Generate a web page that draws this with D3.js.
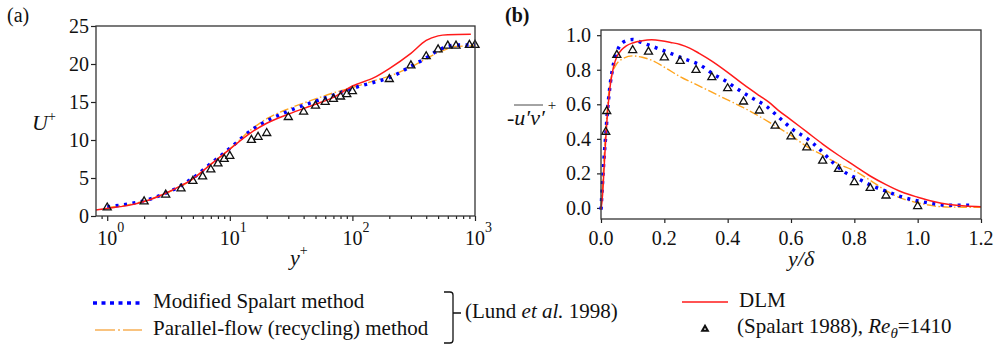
<!DOCTYPE html>
<html>
<head>
<meta charset="utf-8">
<script src="https://cdn.jsdelivr.net/npm/d3@7"></script>
</head>
<body style="margin:0;background:#fff">
<svg id="chart" width="1003" height="345" font-family="Liberation Serif"></svg>
<script>
// (a) mean velocity U+ vs y+
const dlmYp = [0.81, 1, 1.5, 2, 3, 4, 5, 7, 10, 15, 20, 30, 50, 70, 100, 150, 200, 300, 400, 500, 600, 925];
const dlmU = [0.8, 1.0, 1.4, 1.9, 3.0, 4.0, 4.9, 6.8, 8.8, 11.0, 12.2, 13.4, 14.7, 15.6, 17.1, 18.2, 19.4, 21.4, 23.1, 23.7, 23.85, 23.9];
const spalYp = [1, 1.5, 2, 3, 4, 5, 7, 10, 15, 20, 30, 50, 70, 100, 150, 200, 300, 400, 500, 600, 700, 1000];
const spalU = [1.2, 1.6, 2.0, 3.0, 4.0, 5.0, 6.9, 8.9, 11.3, 12.5, 13.8, 15.1, 15.9, 16.8, 17.6, 18.2, 19.7, 20.8, 21.8, 22.3, 22.5, 22.5];
const parYp = [1, 1.5, 2, 3, 4, 5, 7, 10, 15, 20, 30, 50, 70, 100, 150, 200, 300, 400, 500, 600, 700, 1000];
const parU = [1.1, 1.5, 1.95, 3.0, 3.9, 4.9, 6.8, 8.8, 11.4, 12.8, 14.1, 15.4, 16.2, 16.9, 17.8, 18.4, 19.6, 20.7, 21.5, 22.0, 22.3, 22.4];
const expYp = [1, 2, 3, 4, 5, 6, 7, 8, 9, 10, 15, 17, 20, 30, 40, 50, 60, 70, 80, 90, 100, 200, 300, 400, 500, 600, 700, 900, 1000];
const expU = [1.1, 1.9, 2.8, 3.6, 4.6, 5.2, 6.1, 6.9, 7.5, 7.9, 10.0, 10.4, 10.9, 13.0, 13.7, 14.5, 15.0, 15.4, 15.7, 16.0, 16.4, 18.0, 19.8, 21.0, 21.9, 22.4, 22.4, 22.5, 22.5];

// (b) Reynolds shear stress vs y/delta
const dlmEta = [0, 0.005, 0.01, 0.015, 0.02, 0.025, 0.03, 0.04, 0.05, 0.065, 0.08, 0.1, 0.13, 0.16, 0.19, 0.22, 0.25, 0.28, 0.31, 0.35, 0.4, 0.45, 0.5, 0.53, 0.56, 0.6, 0.65, 0.7, 0.75, 0.8, 0.85, 0.9, 0.95, 1.0, 1.05, 1.1, 1.15, 1.2];
const dlmUv = [-0.01, 0.08, 0.24, 0.40, 0.54, 0.64, 0.72, 0.82, 0.875, 0.915, 0.938, 0.955, 0.968, 0.973, 0.968, 0.958, 0.946, 0.925, 0.895, 0.85, 0.785, 0.715, 0.65, 0.612, 0.565, 0.51, 0.44, 0.37, 0.305, 0.245, 0.185, 0.135, 0.092, 0.062, 0.037, 0.02, 0.011, 0.007];
const spalEta = [0, 0.005, 0.01, 0.015, 0.02, 0.025, 0.03, 0.037, 0.044, 0.058, 0.079, 0.1, 0.128, 0.155, 0.207, 0.26, 0.313, 0.355, 0.397, 0.428, 0.47, 0.523, 0.565, 0.607, 0.649, 0.692, 0.734, 0.776, 0.818, 0.86, 0.902, 0.944, 0.997, 1.049, 1.102, 1.176];
const spalUv = [-0.01, 0.15, 0.3, 0.42, 0.55, 0.65, 0.73, 0.81, 0.87, 0.935, 0.968, 0.975, 0.958, 0.94, 0.904, 0.865, 0.827, 0.775, 0.731, 0.692, 0.644, 0.587, 0.519, 0.452, 0.404, 0.337, 0.26, 0.2, 0.163, 0.125, 0.096, 0.067, 0.042, 0.025, 0.015, 0.015];
const parEta = [0, 0.005, 0.01, 0.016, 0.023, 0.034, 0.047, 0.07, 0.1, 0.13, 0.16, 0.2, 0.25, 0.3, 0.35, 0.4, 0.45, 0.5, 0.55, 0.6, 0.65, 0.7, 0.75, 0.8, 0.85, 0.9, 0.95, 1.0, 1.05, 1.1, 1.2];
const parUv = [0, 0.12, 0.3, 0.47, 0.64, 0.77, 0.827, 0.865, 0.88, 0.872, 0.855, 0.815, 0.76, 0.715, 0.67, 0.625, 0.58, 0.53, 0.475, 0.42, 0.355, 0.305, 0.255, 0.215, 0.16, 0.1, 0.055, 0.03, 0.012, 0.005, 0.004];
const expEta = [0.015, 0.018, 0.05, 0.1, 0.15, 0.2, 0.25, 0.3, 0.35, 0.4, 0.45, 0.5, 0.55, 0.6, 0.65, 0.7, 0.75, 0.8, 0.85, 0.9, 1.0];
const expUv = [0.44, 0.56, 0.885, 0.913, 0.904, 0.871, 0.85, 0.798, 0.756, 0.692, 0.615, 0.563, 0.475, 0.413, 0.35, 0.273, 0.225, 0.148, 0.115, 0.071, 0.01];

const uTicks = [0, 5, 10, 15, 20, 25];
const decadeTicks = [1, 10, 100, 1000];
const uvTicks = [0, 0.2, 0.4, 0.6, 0.8, 1.0];
const etaTicks = [0, 0.2, 0.4, 0.6, 0.8, 1.0, 1.2];

const SERIF = "Liberation Serif";
const RED = "#ff1a1a", BLUE = "#0000ff", ORANGE = "#ffa51f";
const svg = d3.select("#chart");
svg.append("rect").attr("width", 1003).attr("height", 345).attr("fill", "#fff");

function zip(xs, ys) { return xs.map((x, i) => [x, ys[i]]); }

// every text goes through here so the serif face is set on the element itself
function label(g, x, y, size) {
  return g.append("text").attr("x", x).attr("y", y)
    .attr("font-size", size).attr("font-family", SERIF)
    .style("font-family", SERIF).attr("fill", "#111");
}

function drawSeries(g, x, y, series) {
  const line = d3.line().x(d => x(d[0])).y(d => y(d[1])).curve(d3.curveMonotoneX);
  g.append("path").datum(zip(series.par[0], series.par[1])).attr("d", line)
    .attr("fill", "none").attr("stroke", ORANGE).attr("stroke-width", 1.4).attr("stroke-dasharray", "9,2.5,1.5,2.5");
  g.append("path").datum(zip(series.spal[0], series.spal[1])).attr("d", line)
    .attr("fill", "none").attr("stroke", BLUE).attr("stroke-width", 3.5).attr("stroke-dasharray", "3,5.5");
  g.append("path").datum(zip(series.dlm[0], series.dlm[1])).attr("d", line)
    .attr("fill", "none").attr("stroke", RED).attr("stroke-width", 1.5);
  g.selectAll(".tri").data(zip(series.exp[0], series.exp[1])).enter().append("path")
    .attr("transform", d => `translate(${x(d[0])},${y(d[1])})`)
    .attr("d", d3.symbol(d3.symbolTriangle, 28)())
    .attr("fill", "none").attr("stroke", "#111").attr("stroke-width", 1.3);
}

// axis: ticks from d3, labels written as our own texts
function ticksOnly(g) {
  g.attr("font-family", SERIF);
  g.select(".domain").remove();
  g.selectAll("text").remove();
  g.selectAll("line").attr("stroke", "#222").attr("stroke-width", 1.2);
}

// ----- panel (a) -----
const xa = d3.scaleLog().domain([0.81, 1000]).range([96, 475]);
const ya = d3.scaleLinear().domain([0, 25]).range([216, 26]);
const ga = svg.append("g");

const minorA = [0.9].concat(d3.range(2, 10), d3.range(20, 100, 10), d3.range(200, 1000, 100));

ga.append("g").attr("transform", "translate(0,216)")
  .call(d3.axisBottom(xa).tickValues(minorA).tickSize(3)).call(ticksOnly);
ga.append("g").attr("transform", "translate(0,216)")
  .call(d3.axisBottom(xa).tickValues(decadeTicks).tickSize(5)).call(ticksOnly);
ga.append("g").attr("transform", "translate(96,0)")
  .call(d3.axisLeft(ya).tickValues(uTicks).tickSize(5)).call(ticksOnly);

decadeTicks.forEach(v => {
  label(ga, xa(v), 245, 20).attr("text-anchor", "middle").text("10");
  label(ga, xa(v) + 10, 232, 14).text(String(Math.round(Math.log10(v))));
});
uTicks.forEach(v => {
  label(ga, 89, ya(v), 20).attr("text-anchor", "end").attr("dy", "0.34em").text(v);
});

drawSeries(ga, xa, ya, {
  par: [parYp, parU], spal: [spalYp, spalU], dlm: [dlmYp, dlmU], exp: [expYp, expU]
});
ga.append("rect").attr("x", 96).attr("y", 26).attr("width", 379).attr("height", 190)
  .attr("fill", "none").attr("stroke", "#333").attr("stroke-width", 1.3);

label(ga, 7, 22, 20).text("(a)");
const ua = label(ga, 32, 130, 22);
ua.append("tspan").attr("font-style", "italic").text("U");
ua.append("tspan").attr("dy", -9).attr("font-size", 14).text("+");
const ypa = label(ga, 290, 265, 22);
ypa.append("tspan").attr("font-style", "italic").text("y");
ypa.append("tspan").attr("dy", -10).attr("font-size", 14).text("+");

// ----- panel (b) -----
const xb = d3.scaleLinear().domain([0, 1.2]).range([601, 981]);
const yb = d3.scaleLinear().domain([-0.064, 1.03]).range([219, 30]);
const gb = svg.append("g");
const f1 = d3.format(".1f");

gb.append("g").attr("transform", "translate(0,219)")
  .call(d3.axisBottom(xb).tickValues(etaTicks).tickSize(4)).call(ticksOnly);
gb.append("g").attr("transform", "translate(601,0)")
  .call(d3.axisLeft(yb).tickValues(uvTicks).tickSize(4)).call(ticksOnly);
etaTicks.forEach(v => {
  label(gb, xb(v), 245, 20).attr("text-anchor", "middle").text(f1(v));
});
uvTicks.forEach(v => {
  label(gb, 591, yb(v), 20).attr("text-anchor", "end").attr("dy", "0.34em").text(f1(v));
});

drawSeries(gb, xb, yb, {
  par: [parEta, parUv], spal: [spalEta, spalUv], dlm: [dlmEta, dlmUv], exp: [expEta, expUv]
});
gb.append("rect").attr("x", 601).attr("y", 30).attr("width", 380).attr("height", 189)
  .attr("fill", "none").attr("stroke", "#333").attr("stroke-width", 1.3);

label(gb, 505, 22, 20).attr("font-weight", "bold").text("(b)");
const ub = label(gb, 507, 125, 22).attr("font-style", "italic");
ub.append("tspan").text("-u\u2032v\u2032");
ub.append("tspan").attr("dy", -15).attr("dx", 3).attr("font-size", 15).attr("font-style", "normal").text("+");
gb.append("line").attr("x1", 514).attr("x2", 543).attr("y1", 105).attr("y2", 105)
  .attr("stroke", "#333").attr("stroke-width", 0.9);
label(gb, 788, 266, 22).attr("font-style", "italic").text("y/\u03b4");

// ----- legend -----
const lg = svg.append("g");
lg.append("line").attr("x1", 93).attr("x2", 143).attr("y1", 303).attr("y2", 303)
  .attr("stroke", BLUE).attr("stroke-width", 3.5).attr("stroke-dasharray", "4,4.5");
label(lg, 153, 308, 21).text("Modified Spalart method");
lg.append("line").attr("x1", 95).attr("x2", 142).attr("y1", 330).attr("y2", 330)
  .attr("stroke", "#f7b055").attr("stroke-width", 1.6).attr("stroke-dasharray", "20,3,2,3");
label(lg, 153, 335, 21).text("Parallel-flow (recycling) method");

lg.append("path")
  .attr("d", "M444,292 L450,292 Q453,292 453,295 L453,340 Q453,343 450,343 L444,343 M453,313 L461,313")
  .attr("fill", "none").attr("stroke", "#111").attr("stroke-width", 1.3);
const lund = label(lg, 465, 318, 21);
lund.append("tspan").text("(Lund ");
lund.append("tspan").attr("font-style", "italic").text("et al.");
lund.append("tspan").text(" 1998)");

lg.append("line").attr("x1", 682).attr("x2", 728).attr("y1", 302).attr("y2", 302)
  .attr("stroke", RED).attr("stroke-width", 1.5);
label(lg, 739, 307, 21).text("DLM");
lg.append("path").attr("transform", "translate(705,329)")
  .attr("d", d3.symbol(d3.symbolTriangle, 14)())
  .attr("fill", "none").attr("stroke", "#111").attr("stroke-width", 2);
const sp = label(lg, 737, 333, 21);
sp.append("tspan").text("(Spalart 1988), ");
sp.append("tspan").attr("font-style", "italic").text("Re");
sp.append("tspan").attr("font-style", "italic").attr("font-size", 15).attr("dy", 5).text("\u03b8");
sp.append("tspan").attr("dy", -5).text("=1410");
</script>
</body>
</html>
